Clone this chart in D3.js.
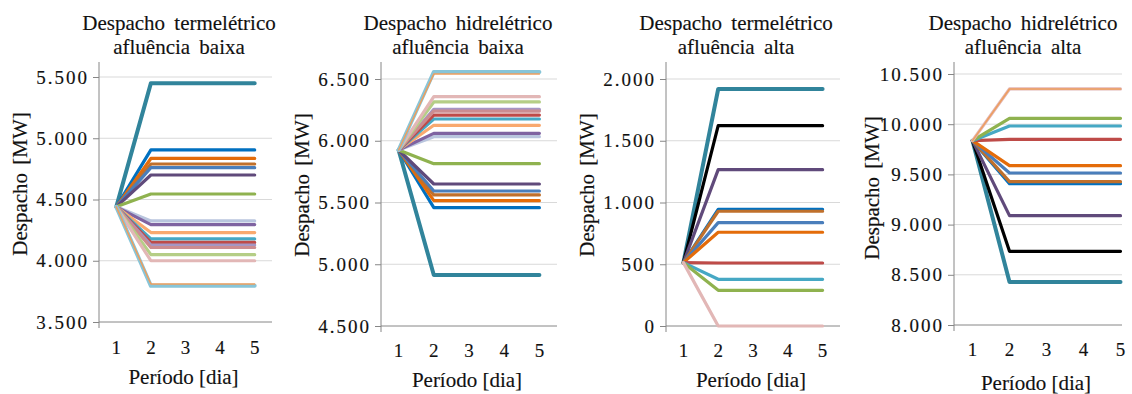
<!DOCTYPE html>
<html>
<head>
<meta charset="utf-8">
<script src="https://cdn.jsdelivr.net/npm/d3@7"></script>
<style>
body { margin: 0; background: #fff; }
</style>
</head>
<body>
<div id="c"></div>
<script>
var width = 1132;
var height = 394;
var serif = "'Liberation Serif', 'Times New Roman', Times, serif";

var periods = [1, 2, 3, 4, 5];

// line colours, keyed by series name
var palette = {
	tealDark: "#31849B", blue: "#0070C0", orange: "#E46C0A", brown: "#C0702C",
	steel: "#4A7EBB", darkPurple: "#604A7B", green: "#8FB24F", blueGray: "#B9C5DE",
	purple: "#7F63A1", lightOrange: "#F9A96F", cyan: "#46A8C4", red: "#BE4B48",
	lavender: "#A596C4", mauve: "#CC8C90", lightGreen: "#B5CE86", lightPink: "#E2B7B6",
	lightCyan: "#88C5D8", thinOrange: "#EE9E5E", black: "#000000"
};
var thick = ["tealDark", "lightCyan"];
var thin = ["thinOrange"];

// Despacho termelétrico, afluência baixa
var tb_names = ["tealDark", "blue", "orange", "brown", "steel", "darkPurple", "green", "blueGray", "purple",
	"lightOrange", "cyan", "red", "lavender", "mauve", "lightGreen", "lightPink", "lightCyan", "thinOrange"];
var tb_values = [
	[4440, 5450, 5450, 5450, 5450],
	[4440, 4905, 4905, 4905, 4905],
	[4440, 4835, 4835, 4835, 4835],
	[4440, 4790, 4790, 4790, 4790],
	[4440, 4760, 4760, 4760, 4760],
	[4440, 4700, 4700, 4700, 4700],
	[4440, 4545, 4545, 4545, 4545],
	[4440, 4325, 4325, 4325, 4325],
	[4440, 4295, 4295, 4295, 4295],
	[4440, 4230, 4230, 4230, 4230],
	[4440, 4178, 4178, 4178, 4178],
	[4440, 4150, 4150, 4150, 4150],
	[4440, 4128, 4128, 4128, 4128],
	[4440, 4108, 4108, 4108, 4108],
	[4440, 4050, 4050, 4050, 4050],
	[4440, 4000, 4000, 4000, 4000],
	[4440, 3795, 3795, 3795, 3795],
	[4440, 3810, 3810, 3810, 3810]
];
var tb_ticks = [3500, 4000, 4500, 5000, 5500];

// Despacho hidrelétrico, afluência baixa
var hb_names = tb_names;
var hb_values = [
	[5925, 4913, 4913, 4913, 4913],
	[5925, 5458, 5458, 5458, 5458],
	[5925, 5515, 5515, 5515, 5515],
	[5925, 5561, 5561, 5561, 5561],
	[5925, 5593, 5593, 5593, 5593],
	[5925, 5650, 5650, 5650, 5650],
	[5925, 5814, 5814, 5814, 5814],
	[5925, 6033, 6033, 6033, 6033],
	[5925, 6060, 6060, 6060, 6060],
	[5925, 6125, 6125, 6125, 6125],
	[5925, 6176, 6176, 6176, 6176],
	[5925, 6208, 6208, 6208, 6208],
	[5925, 6254, 6254, 6254, 6254],
	[5925, 6240, 6240, 6240, 6240],
	[5925, 6314, 6314, 6314, 6314],
	[5925, 6357, 6357, 6357, 6357],
	[5925, 6557, 6557, 6557, 6557],
	[5925, 6540, 6540, 6540, 6540]
];
var hb_ticks = [4500, 5000, 5500, 6000, 6500];

// Despacho termelétrico, afluência alta
var ta_names = ["tealDark", "black", "darkPurple", "blue", "brown", "steel", "orange", "red", "cyan", "green",
	"thinOrange", "lightPink"];
var ta_values = [
	[513, 1919, 1919, 1919, 1919],
	[513, 1622, 1622, 1622, 1622],
	[513, 1266, 1266, 1266, 1266],
	[513, 945, 945, 945, 945],
	[513, 929, 929, 929, 929],
	[513, 837, 837, 837, 837],
	[513, 759, 759, 759, 759],
	[513, 510, 510, 510, 510],
	[513, 378, 378, 378, 378],
	[513, 289, 289, 289, 289],
	[513, 0, 0, 0, 0],
	[513, 0, 0, 0, 0]
];
var ta_ticks = [0, 500, 1000, 1500, 2000];

// Despacho hidrelétrico, afluência alta
var ha_names = ["tealDark", "black", "darkPurple", "blue", "brown", "steel", "orange", "red", "cyan", "green",
	"lightPink", "thinOrange"];
var ha_values = [
	[9836, 8428, 8428, 8428, 8428],
	[9836, 8734, 8734, 8734, 8734],
	[9836, 9089, 9089, 9089, 9089],
	[9836, 9408, 9408, 9408, 9408],
	[9836, 9428, 9428, 9428, 9428],
	[9836, 9514, 9514, 9514, 9514],
	[9836, 9587, 9587, 9587, 9587],
	[9836, 9849, 9849, 9849, 9849],
	[9836, 9982, 9982, 9982, 9982],
	[9836, 10059, 10059, 10059, 10059],
	[9836, 10351, 10351, 10351, 10351],
	[9836, 10351, 10351, 10351, 10351]
];
var ha_ticks = [8000, 8500, 9000, 9500, 10000, 10500];

var titles = [
	["Despacho termelétrico", "afluência baixa"],
	["Despacho hidrelétrico", "afluência baixa"],
	["Despacho termelétrico", "afluência alta"],
	["Despacho hidrelétrico", "afluência alta"]
];
var y_label = "Despacho [MW]";
var x_label = "Período [dia]";

// panel layout (pixels)
var panels = [
	{names: tb_names, values: tb_values, ticks: tb_ticks, x0: 99, x1: 272, gridRight: 272, yb: 322, yt: 77,
		titleX: 179, labelX: 27, labelY: 184, xTickY: 354, xLabelY: 384},
	{names: hb_names, values: hb_values, ticks: hb_ticks, x0: 381, x1: 557, gridRight: 557, yb: 326, yt: 79,
		titleX: 458, labelX: 309, labelY: 185, xTickY: 357, xLabelY: 387},
	{names: ta_names, values: ta_values, ticks: ta_ticks, x0: 666, x1: 840, gridRight: 840, yb: 326, yt: 79,
		titleX: 736, labelX: 594, labelY: 185, xTickY: 357, xLabelY: 387},
	{names: ha_names, values: ha_values, ticks: ha_ticks, x0: 954, x1: 1139, gridRight: 1122, yb: 325, yt: 74,
		titleX: 1023, labelX: 879, labelY: 188, xTickY: 356, xLabelY: 390}
];

var axis_top = 62;

var pt = d3.formatLocale({decimal: ",", thousands: ".", grouping: [3], currency: ["R$", ""]});
var fmt = pt.format(",d");

var svg = d3.select("#c").append("svg")
	.attr("width", width)
	.attr("height", height);

// reference text is a touch heavier than plain Liberation Serif
function heavy(sel) {
	sel.style("font-family", serif)
		.attr("fill", "#111")
		.attr("stroke", "#111")
		.attr("stroke-width", 0.15);
}

panels.forEach(function(p, i) {
	var g = svg.append("g");

	var x_scale = d3.scalePoint()
		.domain(periods)
		.range([p.x0, p.x1])
		.padding(0.5);

	var y_scale = d3.scaleLinear()
		.domain([p.ticks[0], p.ticks[p.ticks.length - 1]])
		.range([p.yb, p.yt]);

	// gridlines
	g.append("g").selectAll("line")
		.data(p.ticks.slice(1))
		.enter()
		.append("line")
		.attr("x1", p.x0)
		.attr("x2", p.gridRight)
		.attr("y1", function(d) { return y_scale(d) })
		.attr("y2", function(d) { return y_scale(d) })
		.attr("stroke", "#d9d9d9")
		.attr("stroke-width", 1);

	// y axis
	var y_axis = g.append("g")
		.attr("transform", "translate(" + p.x0 + ",0)")
		.call(d3.axisLeft(y_scale).tickValues(p.ticks).tickSize(6).tickPadding(4).tickFormat(fmt));
	y_axis.select(".domain").remove();
	y_axis.selectAll(".tick line").attr("stroke", "#868686");
	y_axis.selectAll("text")
		.call(heavy)
		.style("font-size", "19px")
		.style("letter-spacing", "2px");

	g.append("line")
		.attr("x1", p.x0).attr("x2", p.x0)
		.attr("y1", axis_top).attr("y2", p.yb + 6)
		.attr("stroke", "#868686");

	// x axis
	g.append("line")
		.attr("x1", p.x0).attr("x2", p.gridRight)
		.attr("y1", p.yb).attr("y2", p.yb)
		.attr("stroke", "#868686");

	g.append("g").selectAll("text")
		.data(periods)
		.enter()
		.append("text")
		.attr("x", function(d) { return x_scale(d) })
		.attr("y", p.xTickY)
		.attr("text-anchor", "middle")
		.call(heavy)
		.style("font-size", "19px")
		.text(function(d) { return d });

	// series lines
	var line = d3.line()
		.x(function(d, j) { return x_scale(periods[j]) })
		.y(function(d) { return y_scale(d) });

	g.append("g").selectAll("path")
		.data(p.values)
		.enter()
		.append("path")
		.attr("d", line)
		.attr("fill", "none")
		.attr("stroke", function(d, j) { return palette[p.names[j]] })
		.attr("stroke-width", function(d, j) {
			var n = p.names[j];
			if (thick.indexOf(n) >= 0) return 4;
			if (thin.indexOf(n) >= 0) return 1.5;
			return 3.2;
		})
		.attr("stroke-linejoin", "round")
		.attr("stroke-linecap", "round");

	// titles and labels
	g.append("g").selectAll("text")
		.data(titles[i])
		.enter()
		.append("text")
		.attr("x", p.titleX)
		.attr("y", function(d, j) { return 30 + j * 24 })
		.attr("text-anchor", "middle")
		.call(heavy)
		.style("font-size", "21px")
		.style("word-spacing", "4px")
		.text(function(d) { return d });

	g.append("text")
		.attr("transform", "translate(" + p.labelX + "," + p.labelY + ") rotate(-90)")
		.attr("text-anchor", "middle")
		.call(heavy)
		.style("font-size", "21px")
		.style("word-spacing", "3px")
		.text(y_label);

	g.append("text")
		.attr("x", (p.x0 + p.gridRight) / 2 - 2)
		.attr("y", p.xLabelY)
		.attr("text-anchor", "middle")
		.call(heavy)
		.style("font-size", "21px")
		.text(x_label);
});
</script>
</body>
</html>
